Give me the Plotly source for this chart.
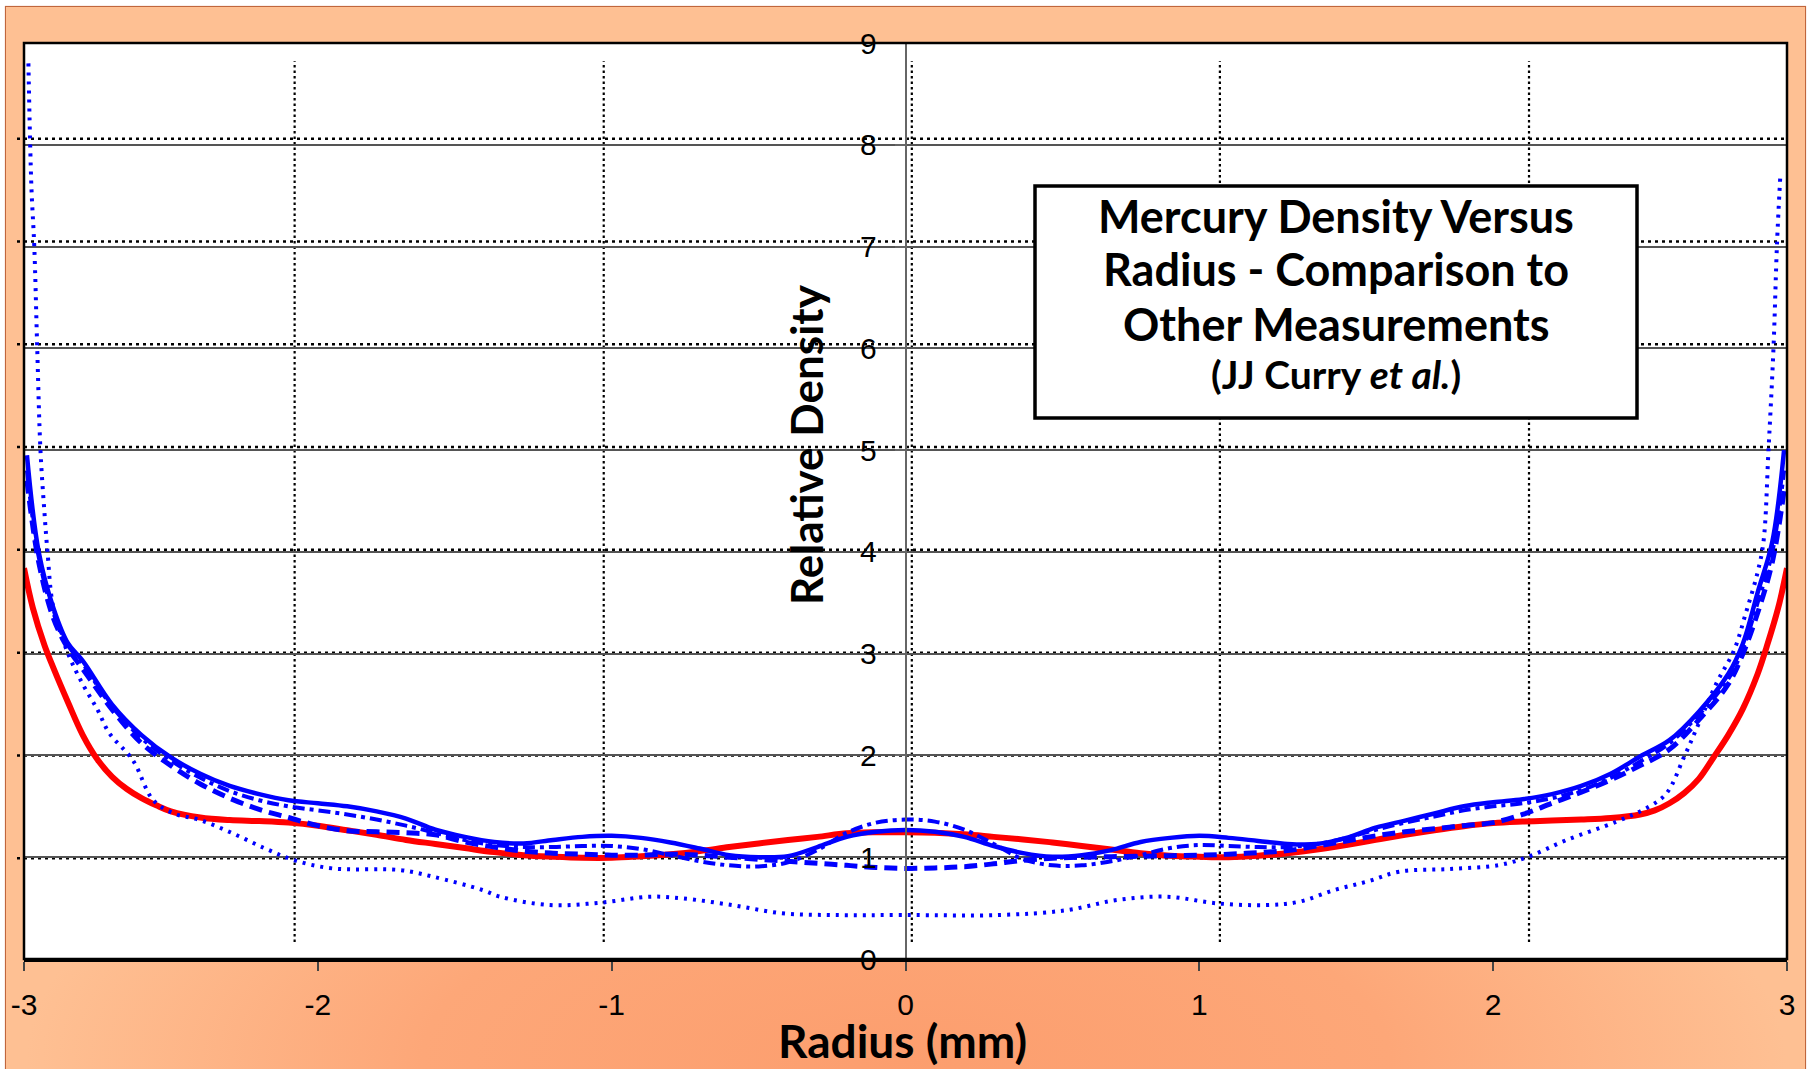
import base64
import plotly.graph_objects as go

# ---------------- data ----------------
red_x = [-3.0, -2.97, -2.93, -2.9, -2.85, -2.8, -2.75, -2.7, -2.65, -2.6, -2.55, -2.5, -2.4, -2.3, -2.2,
         -2.1, -2.0, -1.9, -1.8, -1.7, -1.6, -1.5, -1.4, -1.3, -1.2, -1.1, -1.0, -0.9, -0.8, -0.7, -0.6,
         -0.5, -0.4, -0.3, -0.2, -0.1, 0.0, 0.1, 0.2, 0.3, 0.4, 0.5, 0.6, 0.7, 0.8, 0.9, 1.0, 1.1, 1.2,
         1.3, 1.4, 1.5, 1.6, 1.7, 1.8, 1.9, 2.0, 2.1, 2.2, 2.3, 2.4, 2.5, 2.55, 2.6, 2.65, 2.7, 2.75,
         2.8, 2.85, 2.9, 2.93, 2.97, 3.0]
red_y = [3.84, 3.45, 3.08, 2.86, 2.52, 2.2, 1.96, 1.79, 1.67, 1.58, 1.51, 1.45, 1.39, 1.365, 1.355,
         1.34, 1.31, 1.265, 1.22, 1.17, 1.13, 1.09, 1.05, 1.02, 1.005, 0.995, 0.995, 1.01, 1.03, 1.06, 1.10,
         1.135, 1.17, 1.20, 1.235, 1.245, 1.245, 1.24, 1.225, 1.20, 1.175, 1.145, 1.11, 1.075, 1.04, 1.015, 1.005, 1.0, 1.015,
         1.04, 1.075, 1.12, 1.17, 1.22, 1.265, 1.305, 1.335, 1.35, 1.36, 1.37, 1.385, 1.42, 1.46, 1.53, 1.63, 1.77, 1.98,
         2.2, 2.46, 2.8, 3.06, 3.45, 3.84]

blue_x = [-2.99, -2.95, -2.9, -2.85, -2.8, -2.7, -2.6, -2.5, -2.4, -2.3, -2.2, -2.1, -2.0, -1.9, -1.8,
          -1.7, -1.6, -1.5, -1.4, -1.3, -1.2, -1.1, -1.0, -0.9, -0.8, -0.7, -0.6, -0.5, -0.4, -0.3, -0.2,
          -0.1, 0.0, 0.1, 0.2, 0.3, 0.4, 0.5, 0.6, 0.7, 0.8, 0.9, 1.0, 1.1, 1.2, 1.3, 1.4, 1.5, 1.6, 1.7,
          1.8, 1.9, 2.0, 2.1, 2.2, 2.3, 2.4, 2.5, 2.6, 2.7, 2.8, 2.85, 2.9, 2.95, 2.99]
solid_y = [4.95, 4.0, 3.45, 3.1, 2.93, 2.5, 2.2, 1.98, 1.82, 1.7, 1.62, 1.56, 1.53, 1.50, 1.45,
           1.38, 1.27, 1.20, 1.15, 1.135, 1.17, 1.20, 1.21, 1.19, 1.145, 1.085, 1.02, 1.0, 1.01, 1.10, 1.20,
           1.25, 1.267, 1.25, 1.20, 1.11, 1.04, 1.005, 1.02, 1.07, 1.15, 1.19, 1.21, 1.19, 1.16, 1.13, 1.13, 1.19, 1.29, 1.36,
           1.43, 1.50, 1.54, 1.57, 1.62, 1.70, 1.82, 1.99, 2.15, 2.43, 2.80, 3.1, 3.6, 4.1, 5.0]
dashed_y = [4.7, 3.9, 3.35, 3.05, 2.85, 2.45, 2.12, 1.9, 1.72, 1.58, 1.47, 1.39, 1.31, 1.26, 1.25,
            1.24, 1.22, 1.15, 1.10, 1.06, 1.04, 1.03, 1.02, 1.02, 1.03, 1.02, 1.00, 0.98, 0.96, 0.94, 0.92,
            0.90, 0.89, 0.895, 0.907, 0.935, 0.97, 0.99, 1.0, 1.005, 1.01, 1.015, 1.02, 1.03, 1.045, 1.065, 1.11, 1.16, 1.21, 1.25,
            1.28, 1.31, 1.34, 1.42, 1.53, 1.64, 1.76, 1.90, 2.06, 2.35, 2.7, 3.0, 3.4, 3.9, 4.6]
dashdot_y = [4.8, 3.95, 3.4, 3.08, 2.9, 2.48, 2.17, 1.95, 1.78, 1.65, 1.56, 1.50, 1.46, 1.42, 1.37,
             1.31, 1.24, 1.17, 1.12, 1.10, 1.10, 1.11, 1.11, 1.08, 1.02, 0.96, 0.92, 0.91, 0.95, 1.07, 1.24,
             1.34, 1.37, 1.35, 1.27, 1.13, 0.98, 0.92, 0.92, 0.96, 1.02, 1.09, 1.12, 1.11, 1.10, 1.10, 1.13, 1.19, 1.27, 1.34,
             1.40, 1.46, 1.50, 1.53, 1.58, 1.66, 1.78, 1.94, 2.12, 2.40, 2.75, 3.05, 3.5, 4.0, 4.8]

dotted_x = [-2.985, -2.975, -2.965, -2.955, -2.944, -2.93, -2.92, -2.9, -2.85, -2.8, -2.75, -2.71, -2.63,
            -2.56, -2.49, -2.4, -2.29, -2.18, -2.08, -1.95, -1.72, -1.61, -1.44, -1.38, -1.21, -1.04, -0.87,
            -0.76, -0.59, -0.42, -0.25, 0.0, 0.32, 0.55, 0.72, 0.89, 1.06, 1.23, 1.34, 1.46, 1.57, 1.68,
            1.85, 2.02, 2.12, 2.25, 2.42, 2.53, 2.59, 2.65, 2.70, 2.76, 2.82, 2.86, 2.90, 2.92, 2.937,
            2.954, 2.966, 2.977]
dotted_y = [8.8, 7.6, 7.0, 6.0, 5.0, 4.37, 4.0, 3.45, 3.0, 2.7, 2.45, 2.22, 1.955,
            1.56, 1.43, 1.365, 1.235, 1.087, 0.97, 0.89, 0.874, 0.81, 0.678, 0.612, 0.53, 0.553, 0.612,
            0.596, 0.53, 0.449, 0.432, 0.432, 0.432, 0.48, 0.58, 0.612, 0.547, 0.53, 0.563, 0.678, 0.76, 0.858,
            0.884, 0.923, 1.005, 1.169, 1.35, 1.496, 1.628, 1.987, 2.315, 2.71, 3.035, 3.40, 3.8, 4.1, 5.0,
            6.0, 7.03, 7.68]

# grid of the overlaid comparison plot (dotted lines)
overlay_grid_y = [0.99, 2.0, 3.01, 4.02, 5.03, 6.04, 7.05, 8.06]
overlay_grid_x = [-2.079, -1.027, 0.0215, 1.07, 2.122]

x_tickvals = [-3, -2, -1, 0, 1, 2, 3]
x_ticktext = ["-3", "-2", "-1", "0", "1", "2", "3"]
y_tickvals = [0, 1, 2, 3, 4, 5, 6, 7, 8, 9]

title_lines = ["Mercury Density Versus", "Radius - Comparison to", "Other Measurements"]
subtitle = "(JJ Curry <i>et al.</i>)"
x_title = "Radius (mm)"
y_title = "Relative Density"

# ---------------- geometry ----------------
W, H = 1813, 1069
L, R, T, B = 24, 1787, 43, 959
PW, PH = R - L, B - T


def px(xp):
    return (xp - L) / PW


def py(yp):
    return (B - yp) / PH


# background (frame gradient + white plot area) as an SVG image
svg = f'''<svg xmlns="http://www.w3.org/2000/svg" width="{W}" height="{H}" viewBox="0 0 {W} {H}">
<defs>
<radialGradient id="g" cx="906" cy="1060" r="880" gradientUnits="userSpaceOnUse"
 gradientTransform="translate(906 1060) scale(1 0.38) translate(-906 -1060)">
<stop offset="0" stop-color="#FC9E6E"/>
<stop offset="0.55" stop-color="#FDA778"/>
<stop offset="1" stop-color="#FEC093"/>
</radialGradient>
</defs>
<rect x="0" y="0" width="{W}" height="{H}" fill="#ffffff"/>
<rect x="5.5" y="6.5" width="1800" height="1080" fill="#FEC093" stroke="#C0663C" stroke-width="1.2"/>
<rect x="6" y="7" width="1799" height="1080" fill="url(#g)"/>
<rect x="{L}" y="{T}" width="{PW}" height="{PH}" fill="#ffffff"/>
</svg>'''
svg_uri = "data:image/svg+xml;base64," + base64.b64encode(svg.encode()).decode()

fig = go.Figure()

fig.add_trace(go.Scatter(x=red_x, y=red_y, mode="lines", line=dict(color="#FF0000", width=6, shape="spline"),
                         showlegend=False))
fig.add_trace(go.Scatter(x=dotted_x, y=dotted_y, mode="lines",
                         line=dict(color="#0000FF", width=4, dash="3px,6px", shape="spline"), showlegend=False))
fig.add_trace(go.Scatter(x=blue_x, y=dashed_y, mode="lines",
                         line=dict(color="#0000FF", width=5, dash="13px,7px", shape="spline"), showlegend=False))
fig.add_trace(go.Scatter(x=blue_x, y=dashdot_y, mode="lines",
                         line=dict(color="#0000FF", width=4, dash="12px,5px,4px,5px", shape="spline"),
                         showlegend=False))
fig.add_trace(go.Scatter(x=blue_x, y=solid_y, mode="lines",
                         line=dict(color="#0000FF", width=4.5, shape="spline"), showlegend=False))

shapes = []
for gy in overlay_grid_y:
    shapes.append(dict(type="line", xref="paper", yref="y", x0=px(17), x1=1, y0=gy, y1=gy,
                       line=dict(color="black", width=2.5, dash="3px,4px"), layer="below"))
for gx in overlay_grid_x:
    shapes.append(dict(type="line", xref="x", yref="y", x0=gx, x1=gx, y0=0.167, y1=8.82,
                       line=dict(color="black", width=2.2, dash="2.5px,3px"), layer="below"))
# plot frame
shapes.append(dict(type="rect", xref="paper", yref="paper", x0=0, x1=1, y0=0, y1=1,
                   line=dict(color="black", width=2.5), fillcolor="rgba(0,0,0,0)", layer="above"))
# title box
shapes.append(dict(type="rect", xref="paper", yref="paper", x0=px(1035), x1=px(1637), y0=py(418), y1=py(186),
                   line=dict(color="black", width=3.5), fillcolor="white", layer="above"))

title_font = "Century Gothic, Lato, sans-serif"
annotations = []
for txt, yc in zip(title_lines, [216, 269, 324]):
    annotations.append(dict(text=f"<b>{txt}</b>", xref="paper", yref="paper", x=px(1336), y=py(yc),
                            xanchor="center", yanchor="middle", showarrow=False,
                            font=dict(family=title_font, size=45, color="black")))
annotations.append(dict(text=f"<b>{subtitle}</b>", xref="paper", yref="paper", x=px(1336), y=py(374),
                        xanchor="center", yanchor="middle", showarrow=False,
                        font=dict(family=title_font, size=39, color="black")))
annotations.append(dict(text=f"<b>{x_title}</b>", xref="paper", yref="paper", x=px(902), y=py(1040),
                        xanchor="center", yanchor="middle", showarrow=False,
                        font=dict(family=title_font, size=46, color="black")))
annotations.append(dict(text=f"<b>{y_title}</b>", xref="paper", yref="paper", x=px(806), y=py(445),
                        xanchor="center", yanchor="middle", showarrow=False, textangle=-90,
                        font=dict(family=title_font, size=44, color="black")))

fig.update_layout(
    width=W, height=H, autosize=False,
    margin=dict(l=L, r=W - R, t=T, b=H - B, pad=0),
    paper_bgcolor="white", plot_bgcolor="rgba(0,0,0,0)",
    images=[dict(source=svg_uri, xref="paper", yref="paper", x=-L / PW, y=1 + T / PH,
                 sizex=W / PW, sizey=H / PH, sizing="stretch", xanchor="left", yanchor="top",
                 layer="below")],
    shapes=shapes, annotations=annotations,
    xaxis=dict(range=[-3, 3], tickvals=x_tickvals, ticktext=x_ticktext, showgrid=False, zeroline=False,
               showline=True, linecolor="black", linewidth=3, ticks="outside", ticklen=9,
               tickcolor="#444", tickwidth=1.5, ticklabelstandoff=8,
               tickfont=dict(family="Liberation Sans, Arial", size=30, color="black")),
    yaxis=dict(range=[0, 9], tickvals=y_tickvals, anchor="free", position=0.5, showgrid=True,
               gridcolor="#555", gridwidth=1.5, zeroline=False, showline=True, linecolor="#666",
               linewidth=1.5, ticks="outside", ticklen=10, tickcolor="#666", tickwidth=1.5,
               ticklabelstandoff=12,
               tickfont=dict(family="Liberation Sans, Arial", size=30, color="black")),
)

fig.write_html("out.html", config={"displayModeBar": False},
               post_script="document.body.style.margin='0';document.body.style.overflow='hidden';")
